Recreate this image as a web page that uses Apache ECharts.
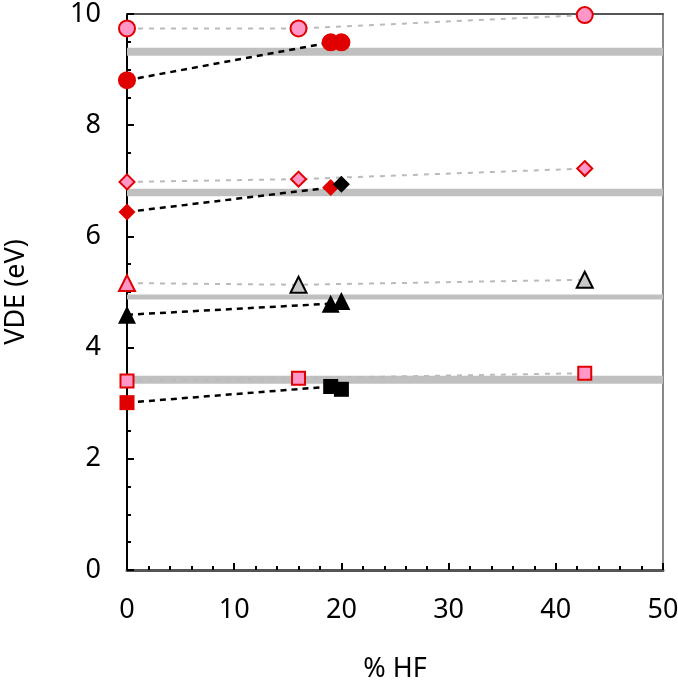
<!DOCTYPE html>
<html>
<head>
<meta charset="utf-8">
<script src="https://cdn.jsdelivr.net/npm/echarts@6/dist/echarts.min.js"></script>
<style>html,body{margin:0;padding:0;background:#fff}#c{width:678px;height:684px}</style>
</head>
<body>
<div id="c"></div>
<script>
// x positions (% HF)
const hfOpen = [0, 16, 42.7];
const hfFilled = [0, 19, 20];
// VDE values (eV)
const circleOpen = [9.74, 9.74, 9.98];
const circleFilled = [8.81, 9.49, 9.49];
const diamondOpen = [6.98, 7.03, 7.22];
const diamondFilled = [6.44, 6.88, 6.94];
const triangleOpen = [5.16, 5.13, 5.22];
const triangleFilled = [4.59, 4.79, 4.84];
const squareOpen = [3.40, 3.45, 3.54];
const squareFilled = [3.01, 3.30, 3.25];
// reference levels
const refLevels = [9.32, 6.79, 4.91, 3.42];
const xTicks = [0, 10, 20, 30, 40, 50];
const yTicks = [0, 2, 4, 6, 8, 10];

const RED = '#e00000', PINK = '#ff96c8', BLACK = '#000000', GREY = '#c0c0c0';
const refWidths = [8, 7.5, 5, 8];

function pts(xs, ys) { return xs.map((x, i) => [x, ys[i]]); }

const series = [];
refLevels.forEach((v, i) => {
  series.push({
    type: 'line', data: [[0, v], [50, v]], showSymbol: false, silent: true,
    lineStyle: { color: GREY, width: refWidths[i] }, z: 1
  });
});
const groups = [
  { sym: 'circle', open: circleOpen, filled: circleFilled, size: 18,
    openFill: [PINK, PINK, PINK], openBorder: [RED, RED, RED],
    filledFill: [RED, RED, RED] },
  { sym: 'diamond', open: diamondOpen, filled: diamondFilled, size: 17,
    openFill: [PINK, PINK, PINK], openBorder: [RED, RED, RED],
    filledFill: [RED, RED, BLACK] },
  { sym: 'triangle', open: triangleOpen, filled: triangleFilled, size: 18,
    openFill: [PINK, '#c8c8c8', '#c8c8c8'], openBorder: [RED, BLACK, BLACK],
    filledFill: [BLACK, BLACK, BLACK] },
  { sym: 'rect', open: squareOpen, filled: squareFilled, size: 15,
    openFill: [PINK, PINK, PINK], openBorder: [RED, RED, RED],
    filledFill: [RED, BLACK, BLACK] }
];
groups.forEach(g => {
  series.push({
    type: 'line', data: pts(hfOpen, g.open), showSymbol: false, silent: true,
    lineStyle: { color: '#bbbbbb', width: 2, type: [5, 6] }, z: 2
  });
  series.push({
    type: 'line', data: pts(hfFilled, g.filled).slice(0, 2), showSymbol: false, silent: true,
    lineStyle: { color: '#000', width: 2.5, type: [6, 5] }, z: 2
  });
  series.push({
    type: 'scatter', symbol: g.sym, symbolSize: g.size, z: 5,
    data: pts(hfFilled, g.filled).map((p, i) => ({ value: p, itemStyle: { color: g.filledFill[i], opacity: 1 } }))
  });
  series.push({
    type: 'scatter', symbol: g.sym, symbolSize: g.size - 2, z: 6,
    data: pts(hfOpen, g.open).map((p, i) => ({ value: p, itemStyle: { color: g.openFill[i], borderColor: g.openBorder[i], borderWidth: 2, opacity: 1 } }))
  });
});

const FONT = 'Noto Sans';
const chart = echarts.init(document.getElementById('c'));
chart.setOption({
  animation: false,
  grid: { left: 127, right: 15, top: 14, bottom: 114, containLabel: false, outerBoundsMode: 'none' },
  xAxis: [{
    type: 'value', min: 0, max: 50, interval: 10,
    name: '% HF', nameLocation: 'middle', nameGap: 86,
    nameTextStyle: { fontFamily: FONT, fontSize: 27, color: '#000' },
    axisLine: { onZero: false, lineStyle: { color: '#555', width: 3 } },
    axisTick: { inside: true, length: 7, lineStyle: { color: '#000', width: 2 } },
    minorTick: { show: true, splitNumber: 5, length: 4, lineStyle: { color: '#000', width: 2 } },
    axisLabel: { fontFamily: FONT, fontSize: 27, color: '#000', margin: 27, formatter: v => xTicks.includes(v) ? String(v) : '' },
    splitLine: { show: false }
  }, {
    type: 'value', min: 0, max: 50, position: 'top',
    axisLine: { onZero: false, lineStyle: { color: '#555', width: 2 } },
    axisTick: { show: false }, axisLabel: { show: false }, splitLine: { show: false }
  }],
  yAxis: [{
    type: 'value', min: 0, max: 10, interval: 2,
    name: 'VDE (eV)', nameLocation: 'middle', nameGap: 97, nameRotate: 90,
    nameTextStyle: { fontFamily: FONT, fontSize: 27, color: '#000' },
    axisLine: { onZero: false, lineStyle: { color: '#000', width: 2 } },
    axisTick: { inside: true, length: 7, lineStyle: { color: '#000', width: 2 } },
    minorTick: { show: true, splitNumber: 4, length: 4, lineStyle: { color: '#000', width: 2 } },
    axisLabel: { fontFamily: FONT, fontSize: 27, color: '#000', margin: 26, formatter: v => yTicks.includes(v) ? String(v) : '' },
    splitLine: { show: false }
  }, {
    type: 'value', min: 0, max: 10, position: 'right',
    axisLine: { show: true, onZero: false, lineStyle: { color: '#888', width: 2 } },
    axisTick: { show: false }, axisLabel: { show: false }, splitLine: { show: false }
  }],
  series: series
});
</script>
</body>
</html>
